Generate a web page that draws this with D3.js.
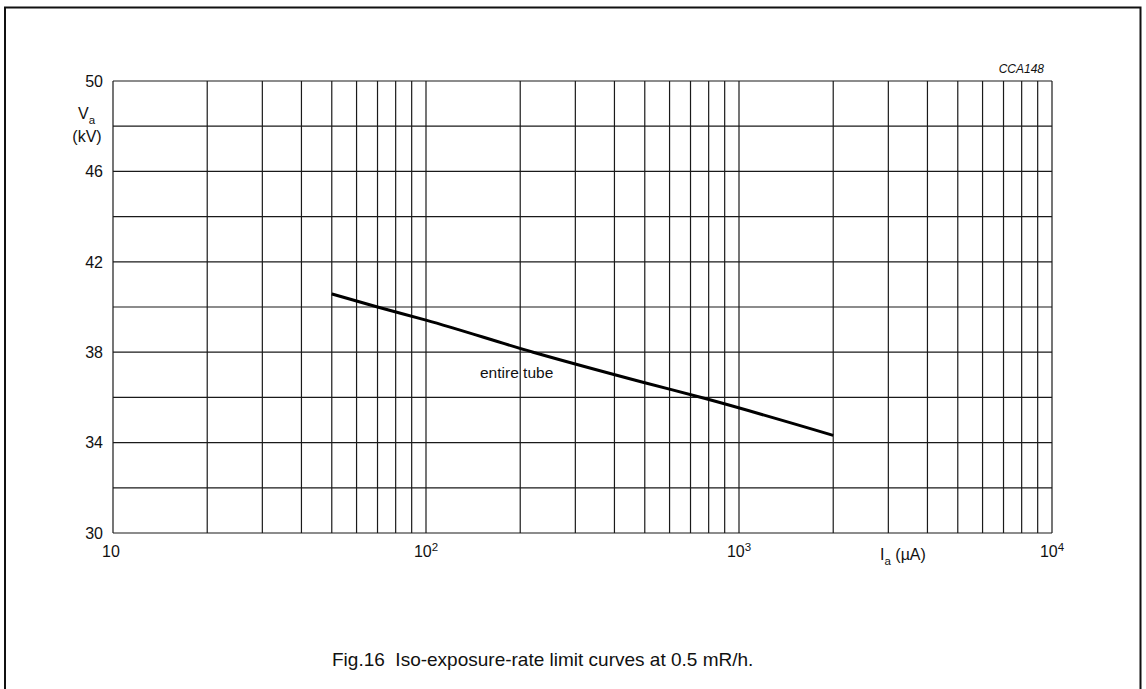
<!DOCTYPE html>
<html><head><meta charset="utf-8">
<script src="https://cdn.jsdelivr.net/npm/d3@7"></script>
<style>body{margin:0;background:#fff}svg{display:block}text{font-family:"Liberation Sans",Arial,sans-serif;fill:#111;white-space:pre}</style>
</head><body><svg id="c" width="1146" height="689"></svg>
<script>
const curveI = [50, 70, 100, 220, 500, 780, 2000];
const curveV = [40.58, 40.0, 39.42, 38.0, 36.65, 35.95, 34.32];
const yTickLabels = [30, 34, 38, 42, 46, 50];
const yGrid = [30,32,34,36,38,40,42,44,46,48,50];
const xDecades = [10, 100, 1000, 10000];
const xDecadeExp = ["", "2", "3", "4"];
const curveLabel = "entire tube";
const caption = "Fig.16  Iso-exposure-rate limit curves at 0.5 mR/h.";
const code = "CCA148";

const svg = d3.select("#c");
const L=113, R=1052, T=81, B=533;
const x = d3.scaleLog().domain([10,10000]).range([L,R]);
const y = d3.scaleLinear().domain([30,50]).range([B,T]);

// frame
svg.append("path").attr("d",`M5,689 L5,7.5 L1140.5,7.5 L1140.5,689`).attr("fill","none").attr("stroke","#111").attr("stroke-width",2);

// vertical grid (log minor)
const xGrid = [];
for (let d=10; d<10000; d*=10) for (let k=1;k<10;k++) xGrid.push(d*k);
xGrid.push(10000);
svg.append("g").selectAll("line").data(xGrid).join("line")
  .attr("x1",d=>x(d)).attr("x2",d=>x(d)).attr("y1",T).attr("y2",B)
  .attr("stroke","#1a1a1a").attr("stroke-width",1.2);
svg.append("g").selectAll("line").data(yGrid).join("line")
  .attr("x1",L).attr("x2",R).attr("y1",d=>y(d)).attr("y2",d=>y(d))
  .attr("stroke","#1a1a1a").attr("stroke-width",1.2);

// y tick labels
svg.append("g").selectAll("text").data(yTickLabels).join("text")
  .attr("x",103).attr("y",d=>y(d)).attr("dy","0.36em").attr("text-anchor","end")
  .attr("font-size",16).text(d=>d);
// x tick labels
svg.append("g").selectAll("text").data(xDecades).join("text")
  .attr("x",(d,i)=>x(d)-(i===0?2:0)).attr("y",557).attr("text-anchor","middle")
  .attr("font-size",16)
  .each(function(d,i){
    const t=d3.select(this);
    t.append("tspan").text("10");
    if (xDecadeExp[i]) t.append("tspan").attr("dy",-6).attr("font-size",11.5).text(xDecadeExp[i]);
  });

// axis titles
const va = svg.append("text").attr("x",78).attr("y",119).attr("font-size",16);
va.append("tspan").text("V");
va.append("tspan").attr("dy",5).attr("font-size",11.5).text("a");
svg.append("text").attr("x",87).attr("y",142).attr("text-anchor","middle").attr("font-size",16).text("(kV)");
const ia = svg.append("text").attr("x",880).attr("y",560).attr("font-size",16);
ia.append("tspan").text("I");
ia.append("tspan").attr("dy",5).attr("font-size",11.5).text("a");
ia.append("tspan").attr("dy",-5).text(" (µA)");

// curve
const pts = curveI.map((d,i)=>[d,curveV[i]]);
svg.append("path").datum(pts)
  .attr("d",d3.line().x(d=>x(d[0])).y(d=>y(d[1])).curve(d3.curveMonotoneX))
  .attr("fill","none").attr("stroke","#000").attr("stroke-width",3);
svg.append("text").attr("x",480).attr("y",378).attr("font-size",15.5).text(curveLabel);

// code
svg.append("text").attr("x",1044).attr("y",73).attr("text-anchor","end").attr("font-size",12).attr("font-style","italic").text(code);
// caption
svg.append("text").attr("x",332).attr("y",666).attr("font-size",19).text(caption);
</script></body></html>
